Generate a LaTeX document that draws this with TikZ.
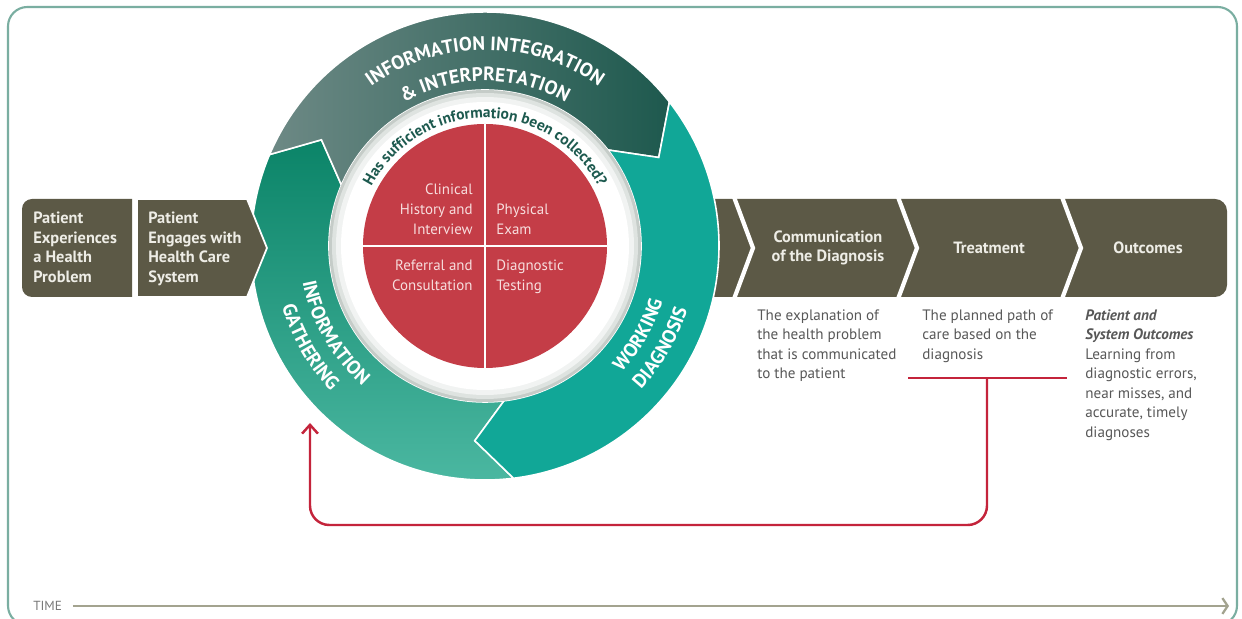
\documentclass[tikz,border=0pt]{standalone}
\usepackage{fontspec}
\setmainfont{PT Sans}
\usetikzlibrary{decorations.text,arrows.meta}
\definecolor{frameC}{HTML}{7AAEA1}
\definecolor{boxC}{HTML}{5C5946}
\definecolor{boxT}{HTML}{EEEDE6}
\definecolor{darkT}{HTML}{1E594E}
\definecolor{darkM}{HTML}{275F55}
\definecolor{darkL}{HTML}{6D8985}
\definecolor{greenT}{HTML}{0B8468}
\definecolor{greenB}{HTML}{4DB9A3}
\definecolor{tealC}{HTML}{11A797}
\definecolor{redC}{HTML}{C43D47}
\definecolor{redT}{HTML}{F7DEDE}
\definecolor{fbC}{HTML}{C4243B}
\definecolor{greyT}{HTML}{585858}
\definecolor{timeC}{HTML}{A3A38F}
\definecolor{timeT}{HTML}{777777}
\definecolor{hasC}{HTML}{1D5A4F}
\definecolor{ringA}{HTML}{C5CCC8}
\definecolor{ringB}{HTML}{DEE3E0}
\definecolor{ringC}{HTML}{F1F3F2}
\newcommand\myRingFont{\color{white}\bfseries\fontsize{11}{13}\selectfont}
\newcommand\myHasFont{\color{hasC}\bfseries\fontsize{8.8}{10}\selectfont}
\begin{document}
\begin{tikzpicture}[x=0.02cm,y=0.02cm,
  boxtxt/.style={text=boxT, font=\fontsize{9.3}{11.1}\selectfont\bfseries, inner sep=0pt},
  quadtxt/.style={text=redT, font=\fontsize{8.5}{11.3}\selectfont, inner sep=0pt},
  subtxt/.style={text=greyT, font=\fontsize{8.6}{11.1}\selectfont, inner sep=0pt, anchor=north west, align=left},
  ringlbl/.style={decorate, decoration={text along path, text align=center, text={|\myRingFont|#1}}},
  fb/.style={draw=fbC, line width=1.4pt},
  seg/.style={draw=white, line width=0.9pt}]
\useasboundingbox (0,0) rectangle (1242,619);
\clip (0,0) rectangle (1242,619);
\fill[white] (0,0) rectangle (1242,619);
\draw[frameC, line width=1.2pt, rounded corners=11pt] (8,-6) rectangle (1237,612);

% right band
\fill[boxC] (690,322) -- (1215,322) arc[start angle=-90,end angle=0,radius=12] -- (1227,408) arc[start angle=0,end angle=90,radius=12] -- (690,420) -- cycle;
\foreach \sx in {734,898,1062} \draw[white, line width=2.4pt] (\sx,422) -- (\sx+19,371) -- (\sx,320);

% left box 1
\fill[boxC] (132,322) -- (32,322) arc[start angle=270,end angle=180,radius=10] -- (22,410) arc[start angle=180,end angle=90,radius=10] -- (132,420) -- cycle;

% ring
\begin{scope}[shift={(485,373)}]
\shadedraw[seg, top color=greenT, bottom color=greenB] (-83:234) arc[start angle=-83,end angle=-203,radius=234] -- (-213:195) -- (-203:156) arc[start angle=-203,end angle=-83,radius=156] -- (-93:195) -- cycle;
\shadedraw[seg, left color=darkL, middle color=darkM, right color=darkT] (157:234) arc[start angle=157,end angle=38,radius=234] -- (27:195) -- (38:156) arc[start angle=38,end angle=157,radius=156] -- (147:195) -- cycle;
\filldraw[seg, fill=tealC] (38:234) arc[start angle=38,end angle=-83,radius=234] -- (-93:195) -- (-83:156) arc[start angle=-83,end angle=38,radius=156] -- (27:195) -- cycle;
\fill[ringA] (0,0) circle[radius=156];
\fill[ringB] (0,0) circle[radius=153];
\fill[ringC] (0,0) circle[radius=149];
\fill[white] (0,0) circle[radius=144];
\fill[redC] (0,0) circle[radius=122];
\draw[white, line width=1.1pt] (0,122) -- (0,-122) (-122,0) -- (122,0);
\path[ringlbl={INFORMATION INTEGRATION}] (175:196) arc[start angle=175,end angle=5,radius=196];
\path[ringlbl={{\&} INTERPRETATION}] (175:165) arc[start angle=175,end angle=5,radius=165];
\path[ringlbl={INFORMATION}] (160:186) arc[start angle=160,end angle=260,radius=186];
\path[ringlbl={GATHERING}] (160:212) arc[start angle=160,end angle=260,radius=212];
\path[ringlbl={WORKING}] (-80:186) arc[start angle=-80,end angle=20,radius=186];
\path[ringlbl={DIAGNOSIS}] (-80:212) arc[start angle=-80,end angle=20,radius=212];
\path[decorate, decoration={text along path, text align=center, text={|\myHasFont|Has sufficient information been collected?}}] (170:128) arc[start angle=170,end angle=10,radius=128];
\end{scope}

% left box 2 (over ring)
\filldraw[fill=boxC, draw=white, line width=1pt] (137,322) -- (137,420) -- (247,420) -- (267,371) -- (247,322) -- cycle;

% quadrant texts
\node[quadtxt, anchor=north east, align=right] (qa) at (473,435) {Clinical\\History and\\Interview};
\node[quadtxt, anchor=north west, align=left] (qb) at (496,415) {Physical\\Exam};
\node[quadtxt, anchor=north east, align=right] (qc) at (473,359) {Referral and\\Consultation};
\node[quadtxt, anchor=north west, align=left] (qd) at (496,359) {Diagnostic\\Testing};

% box texts
\node[boxtxt, anchor=north west, align=left] (b1) at (33,407) {Patient\\Experiences\\a Health\\Problem};
\node[boxtxt, anchor=north west, align=left] (b2) at (148,407) {Patient\\Engages with\\Health Care\\System};
\node[boxtxt, align=center] (b3) at (828,371) {Communication\\of the Diagnosis};
\node[boxtxt] (b4) at (989,371) {Treatment};
\node[boxtxt] (b5) at (1148,371) {Outcomes};

% descriptions
\node[subtxt] (s1) at (757,310) {The explanation of\\the health problem\\that is communicated\\to the patient};
\node[subtxt] (s2) at (922,310) {The planned path of\\care based on the\\diagnosis};
\node[subtxt] (s3) at (1085,310) {{\bfseries\itshape Patient and}\\{\bfseries\itshape System Outcomes}\\Learning from\\diagnostic errors,\\near misses, and\\accurate, timely\\diagnoses};

% feedback loop
\coordinate (tBarL) at (908,241);
\coordinate (tBarR) at (1067,241);
\coordinate (fbTop) at (987,241);
\coordinate (fbTip) at (310,196);
\coordinate (fbBase) at (0,94);
\draw[fb] (tBarL) -- (tBarR);
\draw[fb, rounded corners=11pt, -{Straight Barb[length=5pt,width=9pt]}] (fbTop) -- (fbTop |- fbBase) -- (fbTip |- fbBase) -- (fbTip);

% time axis
\node[anchor=west, inner sep=0pt, text=timeT, font=\fontsize{7.5}{9}\selectfont] (time) at (33,13) {TIME};
\coordinate (timeEnd) at (1229,13);
\draw[timeC, line width=1.3pt, -{Straight Barb[length=3pt,width=9pt]}] ([xshift=6pt]time.east) -- (timeEnd);
\end{tikzpicture}
\end{document}
